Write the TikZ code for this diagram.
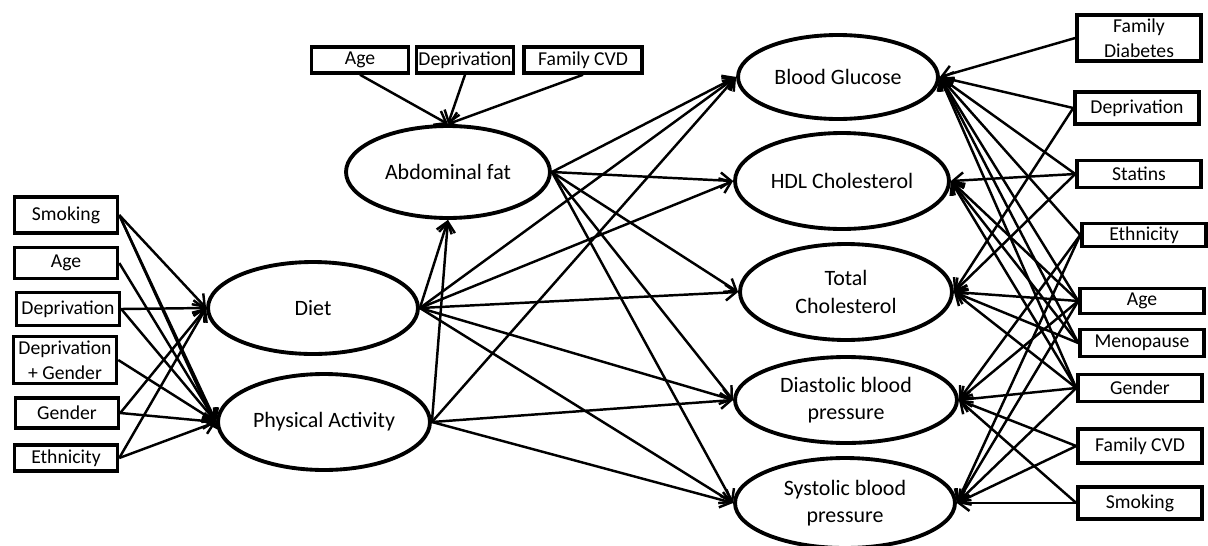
\documentclass[tikz,border=0pt]{standalone}
\usepackage{fontspec}
\setmainfont{Carlito}
\usetikzlibrary{arrows.meta,shapes.geometric}

\begin{document}
\begin{tikzpicture}[
    x=0.02cm, y=-0.02cm,
    latent/.style={ellipse, draw, line width=2.2pt, inner sep=0pt, align=center, font=\fontsize{12.5}{15.5}\selectfont},
    covar/.style={rectangle, draw, line width=2pt, inner sep=1pt, align=center, font=\fontsize{11.2}{14}\selectfont},
    lbox/.style={covar, minimum width=2.06cm},
    tbox/.style={covar, minimum height=0.52cm},
    rbox/.style={covar, minimum width=2.48cm},
    arrow/.style={-{Straight Barb[length=6pt,width=9pt]}, line width=1.4pt},
]
    \useasboundingbox (0,0) rectangle (1208,545);

    % Mediators
    \node[latent, minimum width=4.2cm, minimum height=1.84cm] (diet) at (313,308) {Diet};
    \node[latent, minimum width=4.24cm, minimum height=1.92cm] (pa) at (324,422) {Physical Activity};
    \node[latent, minimum width=4.08cm, minimum height=1.84cm] (abd) at (448,172) {Abdominal fat};

    % Outcomes
    \node[latent, minimum width=4.0cm, minimum height=1.68cm] (bg) at (838,77) {Blood Glucose};
    \node[latent, minimum width=4.28cm, minimum height=1.92cm] (hdl) at (842,181) {HDL Cholesterol};
    \node[latent, minimum width=4.24cm, minimum height=1.92cm] (tc) at (846,292) {Total\\Cholesterol};
    \node[latent, minimum width=4.44cm, minimum height=1.72cm] (dbp) at (846,400) {Diastolic blood\\pressure};
    \node[latent, minimum width=4.4cm, minimum height=1.8cm] (sbp) at (845,503) {Systolic blood\\pressure};

    % Covariates of diet and physical activity
    \node[lbox, minimum height=0.72cm] (lsmk) at (66,215) {Smoking};
    \node[lbox, minimum height=0.62cm] (lage) at (66,263) {Age};
    \node[lbox, minimum height=0.66cm] (ldep) at (68,309) {Deprivation};
    \node[lbox, minimum height=0.94cm] (ldepg) at (65,360) {Deprivation\\+ Gender};
    \node[lbox, minimum height=0.6cm] (lgen) at (67,413) {Gender};
    \node[lbox, minimum height=0.52cm] (leth) at (66,458) {Ethnicity};

    % Covariates of abdominal fat
    \node[tbox, minimum width=1.94cm] (tage) at (360,60) {Age};
    \node[tbox, minimum width=1.88cm] (tdep) at (465,60) {Deprivation};
    \node[tbox, minimum width=2.36cm] (tfcvd) at (583,60) {Family CVD};

    % Covariates of outcomes
    \node[rbox, minimum height=0.92cm] (rfd) at (1139,38) {Family\\Diabetes};
    \node[rbox, minimum height=0.64cm] (rdep) at (1137,108) {Deprivation};
    \node[rbox, minimum height=0.54cm] (rstat) at (1139,174) {Statins};
    \node[rbox, minimum height=0.46cm] (reth) at (1144,235) {Ethnicity};
    \node[rbox, minimum height=0.5cm] (rage) at (1142,301) {Age};
    \node[rbox, minimum height=0.54cm] (rmeno) at (1142,343) {Menopause};
    \node[rbox, minimum height=0.54cm] (rgen) at (1140,388) {Gender};
    \node[rbox, minimum height=0.68cm] (rfcvd) at (1140,446) {Family CVD};
    \node[rbox, minimum height=0.64cm] (rsmk) at (1140,503) {Smoking};

    % Left covariates to diet / physical activity
    \draw[arrow] (lsmk.east) -- (diet.west);
    \draw[arrow] (lsmk.east) -- (pa.west);
    \draw[arrow] (lsmk.east) -- (pa.184);
    \draw[arrow] (lage.east) -- (pa.west);
    \draw[arrow] (ldep.east) -- (diet.west);
    \draw[arrow] (ldep.east) -- (pa.west);
    \draw[arrow] (ldepg.east) -- (pa.west);
    \draw[arrow] (lgen.east) -- (diet.west);
    \draw[arrow] (lgen.east) -- (pa.west);
    \draw[arrow] (leth.east) -- (diet.west);
    \draw[arrow] (leth.east) -- (pa.west);

    % Top covariates to abdominal fat
    \draw[arrow] (tage.south) -- (abd.north);
    \draw[arrow] (tdep.south) -- (abd.north);
    \draw[arrow] (tfcvd.south) -- (abd.north);

    % Diet and physical activity to abdominal fat
    \draw[arrow] (diet.east) -- (abd.south);
    \draw[arrow] (pa.east) -- (abd.south);

    % Abdominal fat to outcomes
    \draw[arrow] (abd.east) -- (bg.west);
    \draw[arrow] (abd.east) -- (hdl.west);
    \draw[arrow] (abd.east) -- (tc.west);
    \draw[arrow] (abd.east) -- (dbp.west);
    \draw[arrow] (abd.east) -- (sbp.west);

    % Diet to outcomes
    \draw[arrow] (diet.east) -- (bg.west);
    \draw[arrow] (diet.east) -- (hdl.west);
    \draw[arrow] (diet.east) -- (tc.west);
    \draw[arrow] (diet.east) -- (dbp.west);
    \draw[arrow] (diet.east) -- (sbp.west);

    % Physical activity to outcomes
    \draw[arrow] (pa.east) -- (bg.west);
    \draw[arrow] (pa.east) -- (dbp.west);
    \draw[arrow] (pa.east) -- (sbp.west);

    % Right covariates to outcomes
    \draw[arrow] (rfd.west) -- (bg.east);
    \draw[arrow] (rdep.west) -- (bg.east);
    \draw[arrow] (rdep.west) -- (tc.east);
    \draw[arrow] (rstat.west) -- (bg.east);
    \draw[arrow] (rstat.west) -- (hdl.east);
    \draw[arrow] (rstat.west) -- (tc.east);
    \draw[arrow] (reth.west) -- (bg.east);
    \draw[arrow] (reth.west) -- (dbp.east);
    \draw[arrow] (reth.west) -- (sbp.east);
    \draw[arrow] (rage.west) -- (bg.east);
    \draw[arrow] (rage.west) -- (hdl.east);
    \draw[arrow] (rage.west) -- (tc.east);
    \draw[arrow] (rage.west) -- (dbp.east);
    \draw[arrow] (rage.west) -- (sbp.east);
    \draw[arrow] (rmeno.west) -- (bg.east);
    \draw[arrow] (rmeno.west) -- (hdl.east);
    \draw[arrow] (rmeno.west) -- (tc.east);
    \draw[arrow] (rgen.west) -- (bg.east);
    \draw[arrow] (rgen.west) -- (hdl.east);
    \draw[arrow] (rgen.west) -- (tc.east);
    \draw[arrow] (rgen.west) -- (dbp.east);
    \draw[arrow] (rgen.west) -- (sbp.east);
    \draw[arrow] (rfcvd.west) -- (dbp.east);
    \draw[arrow] (rfcvd.west) -- (sbp.east);
    \draw[arrow] (rsmk.west) -- (dbp.east);
    \draw[arrow] (rsmk.west) -- (sbp.east);
\end{tikzpicture}
\end{document}
